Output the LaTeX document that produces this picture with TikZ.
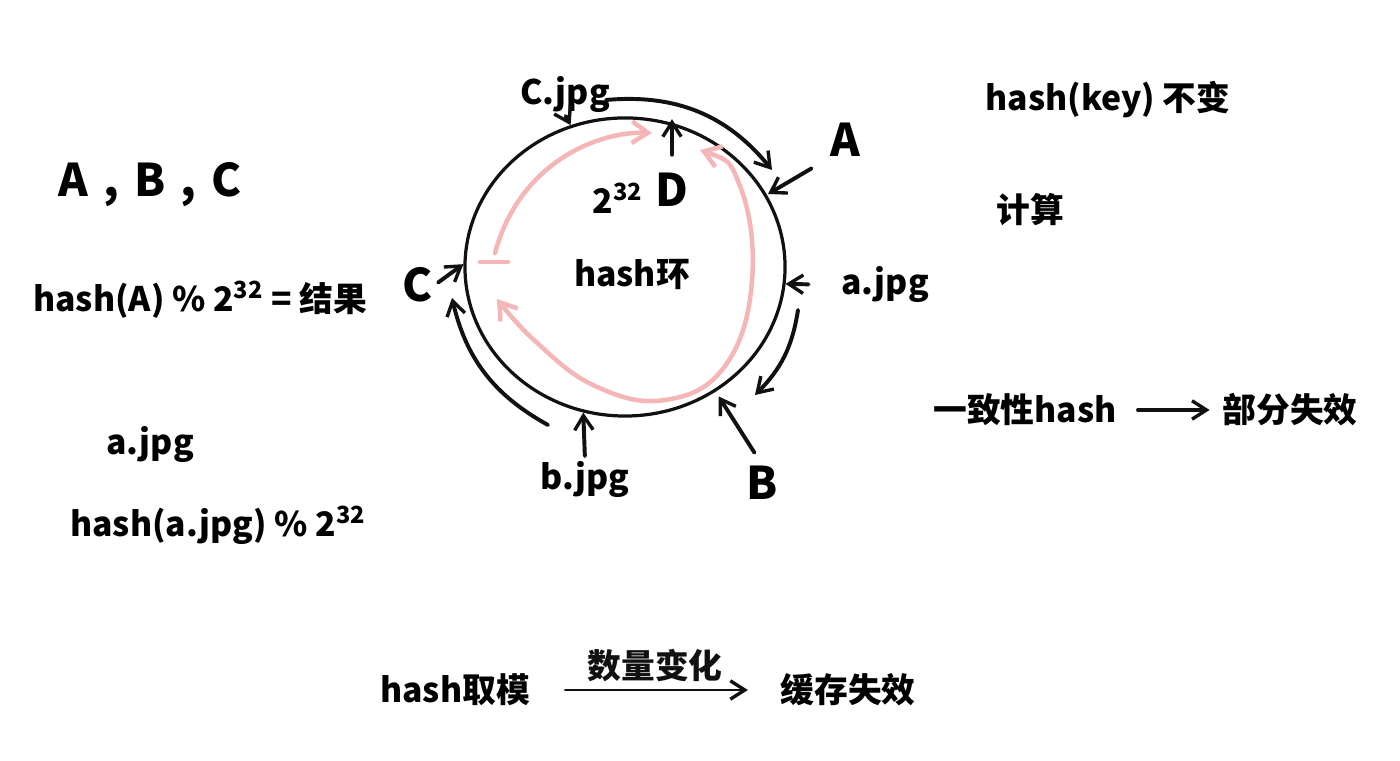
\documentclass[tikz,border=0pt]{standalone}
\usepackage{fontspec}
\setmainfont{Noto Sans CJK SC}
\usetikzlibrary{arrows.meta,shapes.geometric}
\definecolor{inkblack}{HTML}{111111}
\definecolor{softpink}{HTML}{F4B6B6}

\begin{document}
\begin{tikzpicture}[
    x=0.025cm,y=0.025cm,
    hand/.style={font=\fontsize{24}{28}\selectfont\bfseries,inner sep=1pt},
    big/.style={font=\fontsize{32}{36}\selectfont\bfseries,inner sep=1pt},
    ringstyle/.style={draw=inkblack,line width=2.3pt,ellipse,minimum width=8cm,
                      minimum height=7.45cm,inner sep=0pt},
    tip/.style={-{Straight Barb[length=3.6mm,width=4.6mm,line width=2.4pt]},
                line width=2.8pt,inkblack,line cap=round},
    trace/.style={line width=3.2pt,softpink,line cap=round},
    tracetip/.style={trace,-{Straight Barb[length=4mm,width=5.4mm]}}
  ]
    \fill[white] (0,0) rectangle (1400,761);
    \useasboundingbox (0,0) rectangle (1400,761);

    % left column
    \node[big]  (abc)     at (150,576) {A\,\,,\,\,B\,\,,\,\,C};
    \node[hand] (hashA)   at (200,461) {hash(A) \% 2\textsuperscript{32} = 结果};
    \node[hand] (ajpg)    at (150,316) {a.jpg};
    \node[hand] (hashaj)  at (218,236) {hash(a.jpg) \% 2\textsuperscript{32}};

    % ring
    \node[ringstyle] (ring) at (625,494) {};
    \node[hand] (ringlabel) at (632,486) {hash环};
    \node[hand] (two32) at (618,563) {2\textsuperscript{32}};
    \node[big]  (D)     at (672,571) {D};
    \node[hand] (cjpg)  at (565,666) {C.jpg};
    \node[big]  (A)     at (845,621) {A};
    \node[hand] (ajpgr) at (885,476) {a.jpg};
    \node[big]  (B)     at (762,278) {B};
    \node[hand] (bjpg)  at (585,281) {b.jpg};
    \node[big]  (C)     at (418,476) {C};

    \draw[tip,shorten <=1pt] (cjpg.south) -- (ring.111);
    \draw[tip,shorten <=14pt,shorten >=1pt] (A.south west) -- (ring.27);
    \draw[tip,shorten <=22pt] (ajpgr.west) -- (ring.-6);
    \draw[tip,shorten <=10pt,shorten >=4pt] (B.north) -- (ring.-54);
    \draw[tip,shorten <=3pt] (bjpg.north) -- (ring.-106);
    \draw[tip,shorten <=3pt] (C.east) -- (ring.179);
    \draw[tip,shorten <=12pt,shorten >=2pt] (D.north) -- (D.north |- ring.north);

    % walking clockwise
    \coordinate (topA) at (606,661);
    \coordinate (topB) at (772,591);
    \coordinate (rgtA) at (798,451);
    \coordinate (rgtB) at (755,366);
    \coordinate (lftA) at (548,336);
    \coordinate (lftB) at (452,463);
    \draw[tip] (topA) to[bend left=28] (topB);
    \draw[tip] (rgtA) to[bend left=18] (rgtB);
    \draw[tip] (lftA) to[bend left=24] (lftB);

    % pink strokes inside
    \draw[trace] (480,499) -- (508,499);
    \draw[tracetip] (495,508) .. controls (520,600) and (600,630) .. (652,628);
    \draw[trace,{Straight Barb[length=4mm,width=5.4mm]}-{Straight Barb[length=4mm,width=5.4mm]}]
      plot[smooth,tension=0.7] coordinates {(700,611) (740,575) (752,480) (725,395)
        (665,361) (595,375) (535,420) (497,462)};

    % right column
    \node[hand] (key)     at (1108,661) {hash(key) 不变};
    \node[hand] (calc)    at (1030,551) {计算};
    \node[hand] (consist) at (1025,351) {一致性hash};
    \node[hand] (partial) at (1290,351) {部分失效};
    \draw[tip,shorten <=14pt,shorten >=8pt] (consist) -- (partial);

    % bottom row
    \node[hand] (mod)     at (455,71) {hash取模};
    \node[hand] (invalid) at (848,71) {缓存失效};
    \draw[tip,line width=2pt,shorten <=24pt,shorten >=22pt] (mod) --
      node[hand,above=4pt] (change) {数量变化} (invalid);
\end{tikzpicture}
\end{document}
